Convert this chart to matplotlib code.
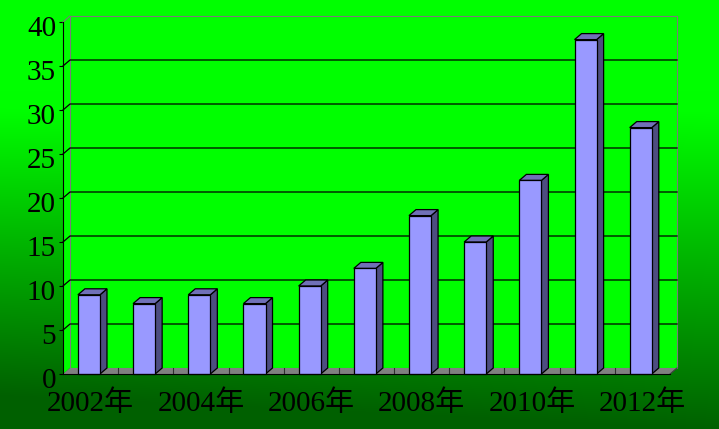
import numpy as np
import matplotlib
matplotlib.use("Agg")
import matplotlib.pyplot as plt
from matplotlib.transforms import ScaledTranslation

# ---- data ----
years = [2002, 2003, 2004, 2005, 2006, 2007, 2008, 2009, 2010, 2011, 2012]
values = [9, 8, 9, 8, 10, 12, 18, 15, 22, 38, 28]
xtick_labels = ["2002年", "2004年", "2006年", "2008年", "2010年", "2012年"]
yticks = [0, 5, 10, 15, 20, 25, 30, 35, 40]

FONT = ["Liberation Serif", "Noto Sans CJK SC", "DejaVu Sans"]
plt.rcParams['font.family'] = FONT

W, H, DPI = 719, 429, 100
fig = plt.figure(figsize=(W / DPI, H / DPI), dpi=DPI)

# ---- background gradient ----
bg = fig.add_axes([0, 0, 1, 1], zorder=-10)
yy, xx = np.mgrid[0:H, 0:W]
t = np.clip((yy - 110) / (H - 110), 0, 1) + 0.12 * (1 - xx / W) * np.clip((yy - 90) / (H - 90), 0, 1)
t = np.clip(t, 0, 1)
g = 1.0 - t * (1.0 - 0.38)
img = np.zeros((H, W, 3))
img[..., 1] = g
bg.imshow(img, aspect='auto', extent=[0, 1, 0, 1], origin='upper')
bg.set_axis_off()

# ---- main axes (front plane) ----
left_px, right_px, top_px, bottom_px = 63, 670, 22, 374
ax = fig.add_axes([left_px / W, (H - bottom_px) / H,
                   (right_px - left_px) / W, (bottom_px - top_px) / H])
ax.set_facecolor('none')
n = len(years)
x0, x1 = -0.5, n - 0.5
ax.set_xlim(x0, x1)
ax.set_ylim(0, 40)

# depth offset in data units
depth_px_x, depth_px_y = 7.0, 6.0
dx = depth_px_x * (x1 - x0) / (right_px - left_px)
dy = depth_px_y * 40 / (bottom_px - top_px)

wall = '#00FF00'
# back wall
ax.fill([x0 + dx, x1 + dx, x1 + dx, x0 + dx], [dy, dy, 40 + dy, 40 + dy],
        facecolor=wall, edgecolor='#7a7a7a', lw=0.8, zorder=1, clip_on=False)
# side wall
ax.fill([x0, x0 + dx, x0 + dx, x0], [0, dy, 40 + dy, 40],
        facecolor=wall, edgecolor='none', zorder=1, clip_on=False)
ax.plot([x0, x0 + dx], [40, 40 + dy], color='#7a7a7a', lw=0.8, zorder=2, clip_on=False)
# gridlines
for v in yticks[1:-1]:
    ax.plot([x0, x0 + dx, x1 + dx], [v, v + dy, v + dy], color='black', lw=0.9,
            zorder=2, clip_on=False)
# floor
ax.fill([x0, x1, x1 + dx, x0 + dx], [0, 0, dy, dy], facecolor='#808080',
        edgecolor='none', zorder=2, clip_on=False)
ax.plot([x1, x1 + dx], [0, dy], color='#404040', lw=0.8, zorder=2, clip_on=False)
for k in range(1, n):
    ax.plot([k - 0.5, k - 0.5], [0, dy], color='#303030', lw=0.8, zorder=2, clip_on=False)

# ---- 3D bars ----
xs = np.arange(n)
bw = 0.4
off = -0.03
front_c, side_c, top_c = '#9999FF', '#4D4D80', '#7070B8'
ax.bar(xs + off, values, width=bw, color=front_c, edgecolor='black', lw=0.9,
       zorder=4, clip_on=False)
for xi, v in zip(xs, values):
    l = xi + off - bw / 2
    r = xi + off + bw / 2
    ax.fill([r, r + dx, r + dx, r], [0, dy, v + dy, v], facecolor=side_c,
            edgecolor='black', lw=0.9, zorder=3, clip_on=False)
    ax.fill([l, r, r + dx, l + dx], [v, v, v + dy, v + dy], facecolor=top_c,
            edgecolor='black', lw=0.9, zorder=3, clip_on=False)

# ---- axes styling ----
for s in ['top', 'right']:
    ax.spines[s].set_visible(False)
ax.spines['left'].set_color('black')
ax.spines['bottom'].set_color('black')
ax.spines['left'].set_zorder(5)
ax.spines['bottom'].set_zorder(5)
ax.set_yticks(yticks)
ax.set_yticklabels([str(v) for v in yticks], fontsize=21, family=FONT)
ax.set_xticks(xs[::2])
ax.set_xticklabels(xtick_labels, fontsize=21, family=FONT)
ax.tick_params(axis='y', length=3, width=0.8, pad=2, colors='black')
ax.tick_params(axis='x', length=0, pad=12, colors='black')
shift = ScaledTranslation(0, -3.5 / DPI, fig.dpi_scale_trans)
for lab in ax.get_yticklabels():
    lab.set_transform(lab.get_transform() + shift)

fig.savefig('out.png', dpi=DPI)
